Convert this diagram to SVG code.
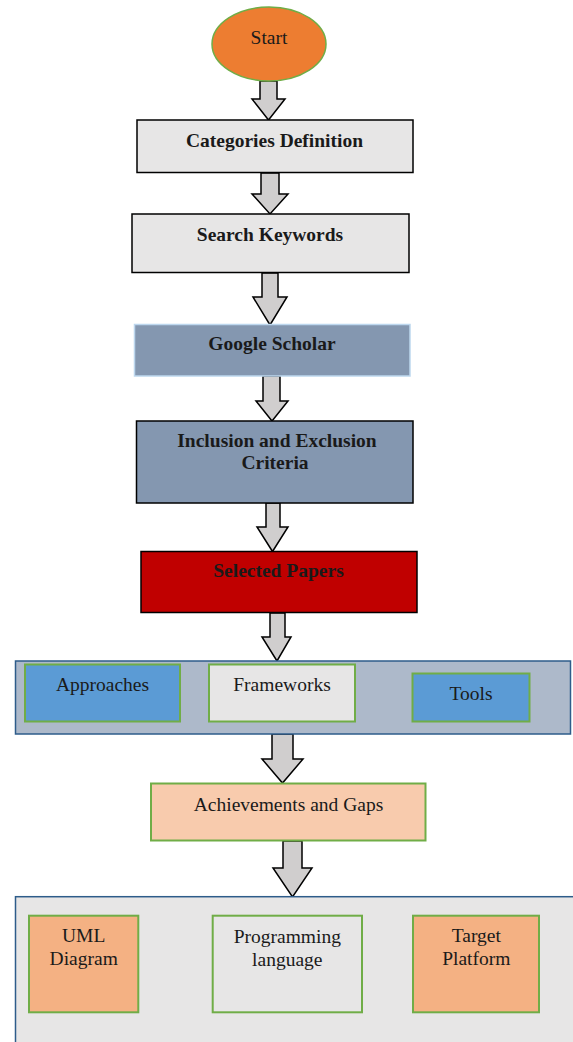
<svg xmlns="http://www.w3.org/2000/svg" width="573" height="1042" viewBox="0 0 573 1042">
<style>
text{font-family:"Liberation Serif","Times New Roman",serif;font-size:19.5px;fill:#1a1a1a;text-anchor:middle}
.b{font-weight:bold}
.arrow{fill:#D0CECE;stroke:#000;stroke-width:1.5;stroke-linejoin:miter}
.gray{fill:#E7E6E6;stroke:#000;stroke-width:1.5}
.slate{fill:#8497B0;stroke:#000;stroke-width:1.5}
.grn{stroke:#70AD47;stroke-width:2}
.cont{stroke:#2E5C8A;stroke-width:1.5}
</style>
<rect width="573" height="1042" fill="#fff"/>
<g id="connectors">
<polygon class="arrow" points="260,81 277,81 277,99 285,99 268.5,120 252,99 260,99"/>
<polygon class="arrow" points="261,173 279,173 279,194 288,194 270,214 252,194 261,194"/>
<polygon class="arrow" points="262,273 278,273 278,297 287,297 270,325 253,297 262,297"/>
<polygon class="arrow" points="263,376 280,376 280,401 288,401 272,421 256,401 263,401"/>
<polygon class="arrow" points="266,503 280,503 280,527 288,527 272.5,551.5 257,527 266,527"/>
<polygon class="arrow" points="270,613 285,613 285,637 291,637 277,661 262,637 270,637"/>
<polygon class="arrow" points="272,734 293,734 293,759 303,759 282.5,783 262,759 272,759"/>
<polygon class="arrow" points="283,841 302,841 302,868 312,868 292.5,897 273,868 283,868"/>
</g>
<g id="start">
<ellipse cx="269" cy="44" rx="57" ry="37" fill="#ED7D31" stroke="#70AD47" stroke-width="1.5"/>
<text x="269" y="44">Start</text>
</g>
<g id="categories">
<rect class="gray" x="137" y="120" width="276" height="52.5"/>
<text class="b" x="274.5" y="146.5">Categories Definition</text>
</g>
<g id="search">
<rect class="gray" x="132" y="214" width="277" height="58.5"/>
<text class="b" x="270" y="241">Search Keywords</text>
</g>
<g id="google">
<rect x="134.5" y="324.5" width="275.5" height="51.5" fill="#8497B0" stroke="#BDD7EE" stroke-width="1.5"/>
<text class="b" x="272" y="350">Google Scholar</text>
</g>
<g id="inclusion">
<rect class="slate" x="136.5" y="421" width="276.5" height="82"/>
<text class="b" x="277" y="446.5">Inclusion and Exclusion</text>
<text class="b" x="275" y="469">Criteria</text>
</g>
<g id="selected">
<rect x="141" y="551.5" width="276" height="61" fill="#C00000" stroke="#000" stroke-width="1.5"/>
<text class="b" x="278.5" y="576.5">Selected Papers</text>
</g>
<g id="group1">
<rect class="cont" x="15.5" y="661" width="555" height="73" fill="#ADB9CA"/>
<g id="approaches">
<rect class="grn" x="25" y="664.5" width="155" height="57" fill="#5B9BD5"/>
<text x="102.5" y="690.5">Approaches</text>
</g>
<g id="frameworks">
<rect class="grn" x="209" y="664.5" width="146" height="57" fill="#E7E6E6"/>
<text x="282" y="690.5">Frameworks</text>
</g>
<g id="tools">
<rect class="grn" x="412.5" y="673.5" width="117" height="48" fill="#5B9BD5"/>
<text x="471" y="700">Tools</text>
</g>
</g>
<g id="achievements">
<rect class="grn" x="151" y="783.5" width="274.5" height="57" fill="#F8CBAD"/>
<text x="288.5" y="810.5">Achievements and Gaps</text>
</g>
<g id="group2">
<rect class="cont" x="15.5" y="896.7" width="570" height="160" fill="#E7E6E6"/>
<g id="uml">
<rect class="grn" x="29" y="915.7" width="109.3" height="96.6" fill="#F4B183"/>
<text x="83.7" y="941.5">UML</text>
<text x="83.7" y="964.5">Diagram</text>
</g>
<g id="programming">
<rect class="grn" x="212.7" y="915.7" width="149.3" height="96.6" fill="#E7E6E6"/>
<text x="287.3" y="943">Programming</text>
<text x="287.3" y="965.5">language</text>
</g>
<g id="target">
<rect class="grn" x="413" y="915.7" width="126" height="96.6" fill="#F4B183"/>
<text x="476.3" y="941.5">Target</text>
<text x="476.3" y="964.5">Platform</text>
</g>
</g>
</svg>
